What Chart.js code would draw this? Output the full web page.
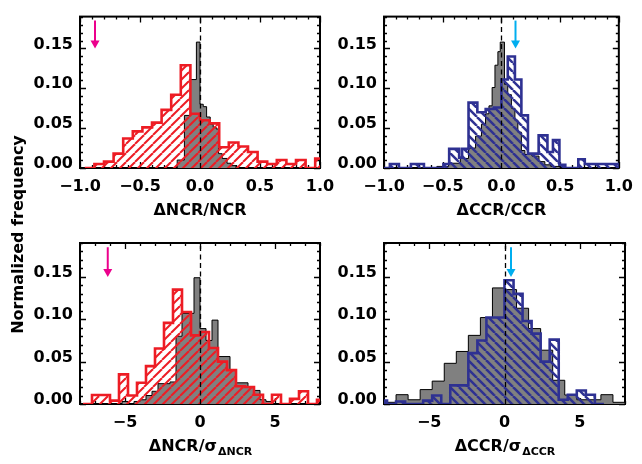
<!DOCTYPE html>
<html>
<head>
<meta charset="utf-8">
<script src="https://cdn.jsdelivr.net/npm/chart.js@4.4.1/dist/chart.umd.min.js"></script>
<style>
html,body{margin:0;padding:0;background:#fff;}
#wrap{position:relative;width:642px;height:464px;overflow:hidden;}
#wrap canvas{position:absolute;left:0;top:0;}
</style>
</head>
<body>
<div id="wrap">
<canvas id="c1" width="642" height="464"></canvas>
<canvas id="c2" width="642" height="464"></canvas>
<canvas id="c3" width="642" height="464"></canvas>
<canvas id="c4" width="642" height="464"></canvas>
</div>
<script>
// ---------- data ----------
// Top-left: ΔNCR/NCR
const ncrEdges   = [-0.96,-0.88,-0.80,-0.72,-0.64,-0.56,-0.48,-0.40,-0.32,-0.24,-0.16,-0.08,0.00,0.08,0.16,0.24,0.32,0.40,0.48,0.56,0.64,0.72,0.80,0.88,0.96,1.04];
const ncrFreq    = [0.000,0.005,0.008,0.018,0.037,0.046,0.051,0.057,0.073,0.092,0.129,0.068,0.060,0.056,0.026,0.032,0.027,0.020,0.008,0.005,0.010,0.005,0.010,0.000,0.012];
const ncrRefEdges= [-0.19,-0.13,-0.08,-0.03,0.00,0.027,0.055,0.085,0.11,0.135,0.155,0.185,0.225,0.26,0.30];
const ncrRefFreq = [0.010,0.066,0.111,0.158,0.080,0.077,0.064,0.055,0.051,0.049,0.018,0.012,0.006,0.003];

// Top-right: ΔCCR/CCR
const ccrEdges   = [-1.0,-0.95,-0.873,-0.771,-0.66,-0.494,-0.445,-0.36,-0.335,-0.28,-0.205,-0.134,-0.065,0.0,0.054,0.115,0.17,0.226,0.317,0.392,0.439,0.494,0.544,0.655,0.71,1.0];
const ccrFreq    = [0.000,0.005,0.000,0.005,0.000,0.005,0.024,0.013,0.024,0.082,0.070,0.074,0.076,0.111,0.140,0.111,0.066,0.018,0.041,0.020,0.035,0.004,0.000,0.011,0.005];
const ccrRefEdges= [-0.55,-0.45,-0.35,-0.28,-0.22,-0.17,-0.135,-0.106,-0.079,-0.055,-0.03,-0.01,0.026,0.054,0.085,0.115,0.14,0.17,0.2,0.26,0.32,0.37,0.42,0.5];
const ccrRefFreq = [0.002,0.006,0.012,0.025,0.040,0.055,0.068,0.078,0.101,0.129,0.146,0.158,0.105,0.092,0.075,0.060,0.045,0.022,0.017,0.015,0.008,0.004,0.002];

// Bottom-left: ΔNCR/σ_ΔNCR
const ncrSigEdges   = [-7.8,-7.2,-6.6,-6.0,-5.4,-4.8,-4.2,-3.6,-3.0,-2.4,-1.8,-1.2,-0.6,0.0,0.6,1.2,1.8,2.4,3.0,3.6,4.2,4.8,5.4,6.0,6.6,7.2,7.8,8.4];
const ncrSigFreq    = [0.000,0.0106,0.0106,0.004,0.035,0.010,0.025,0.0447,0.0655,0.0957,0.135,0.1086,0.081,0.085,0.066,0.050,0.040,0.021,0.020,0.011,0.000,0.011,0.000,0.006,0.015,0.000,0.005];
const ncrSigRefEdges= [-5.2,-4.8,-4.4,-4.0,-3.6,-3.2,-2.8,-2.4,-2.0,-1.6,-1.2,-0.8,-0.4,0.0,0.4,0.8,1.2,1.6,2.0,2.4,2.8,3.2,3.6,4.0,4.4,4.8];
const ncrSigRefFreq = [0.003,0.000,0.003,0.005,0.010,0.015,0.024,0.024,0.026,0.080,0.107,0.107,0.149,0.089,0.075,0.099,0.056,0.056,0.040,0.025,0.025,0.020,0.016,0.005,0.003];

// Bottom-right: ΔCCR/σ_ΔCCR
const ccrSigEdges   = [-8.4,-7.8,-7.2,-6.6,-6.0,-5.4,-4.8,-4.2,-3.6,-3.0,-2.4,-1.8,-1.2,-0.6,0.0,0.6,1.2,1.8,2.4,3.0,3.6,4.2,4.8,5.4,6.0,6.6];
const ccrSigFreq    = [0.004,0.000,0.003,0.000,0.000,0.004,0.010,0.000,0.022,0.022,0.060,0.075,0.102,0.102,0.146,0.130,0.098,0.083,0.050,0.076,0.005,0.011,0.016,0.011,0.000];
const ccrSigRefEdges= [-8.0,-7.2,-6.4,-5.6,-4.8,-4.0,-3.2,-2.4,-1.6,-0.8,0.0,0.8,1.6,2.4,3.2,4.0,4.8,5.6,6.4,7.2,8.0];
const ccrSigRefFreq = [0.002,0.011,0.005,0.017,0.027,0.048,0.062,0.081,0.102,0.137,0.135,0.113,0.089,0.0635,0.028,0.0106,0.005,0.005,0.011,0.002];

// arrows (x position in data units, vertical extent in frequency units)
const arrowNcr = -0.875, arrowCcr = 0.12, arrowNcrSig = -6.15, arrowCcrSig = 0.43;
const arrowTop = 0.185, arrowTip = 0.150;

// ticks
const xTicksTop = [-1, -0.5, 0, 0.5, 1];
const xTickLabelsTop = ['\u22121.0', '\u22120.5', '0.0', '0.5', '1.0'];
const xTicksBottom = [-5, 0, 5];
const xTickLabelsBottom = ['\u22125', '0', '5'];
const yTicks = [0, 0.05, 0.10, 0.15];
const yTickLabels = ['0.00', '0.05', '0.10', '0.15'];

// ---------- styling ----------
const RED = '#ed1c24', NAVY = '#2e3192', GRAY = '#808080', MAGENTA = '#ec008c', CYAN = '#00aeef';
const FONT = '"DejaVu Sans"';
const FS = 16;

Chart.defaults.font.family = FONT;
Chart.defaults.font.weight = 'bold';
Chart.defaults.font.size = FS;
Chart.defaults.color = '#000';

function steps(edges, freq) {
  const pts = [{x: edges[0], y: 0}];
  for (let i = 0; i < freq.length; i++) pts.push({x: edges[i], y: freq[i]});
  pts.push({x: edges[edges.length - 1], y: 0});
  return pts;
}

function hatch(ctx, color, dir, period, lw) {
  const c = document.createElement('canvas');
  c.width = period; c.height = period;
  const g = c.getContext('2d');
  g.strokeStyle = color; g.lineWidth = lw;
  for (let k = -1; k <= 1; k++) {
    g.beginPath();
    if (dir === '/') { g.moveTo(k * period, period); g.lineTo(k * period + period, 0); }
    else { g.moveTo(k * period, 0); g.lineTo(k * period + period, period); }
    g.stroke();
  }
  return ctx.createPattern(c, 'repeat');
}

function drawTitle(ctx, cx, base, main, sub) {
  ctx.save();
  ctx.fillStyle = '#000';
  ctx.textBaseline = 'alphabetic';
  ctx.textAlign = 'left';
  const fMain = 'bold ' + FS + 'px ' + FONT, fSub = 'bold 11px ' + FONT;
  ctx.font = fMain; const w1 = ctx.measureText(main).width;
  ctx.font = fSub; const w2 = sub ? ctx.measureText(sub).width : 0;
  const x0 = cx - (w1 + w2) / 2;
  ctx.font = fMain; ctx.fillText(main, x0, base);
  if (sub) { ctx.font = fSub; ctx.fillText(sub, x0 + w1 + 1, base + 4); }
  ctx.restore();
}

function panelPlugin(p) {
  return {
    id: 'panel' + p.id,
    beforeDatasetsDraw(chart) {
      const {ctx, chartArea: a, scales} = chart;
      const xs = scales.x, ys = scales.y;
      ctx.save();
      ctx.strokeStyle = '#000';
      ctx.lineWidth = 1.3;
      ctx.beginPath();
      const tick = (v, len, horiz) => {
        if (horiz) {
          const px = Math.round(xs.getPixelForValue(v)) + 0.5;
          ctx.moveTo(px, a.bottom); ctx.lineTo(px, a.bottom - len);
          ctx.moveTo(px, a.top); ctx.lineTo(px, a.top + len);
        } else {
          const py = Math.round(ys.getPixelForValue(v)) + 0.5;
          ctx.moveTo(a.left, py); ctx.lineTo(a.left + len, py);
          ctx.moveTo(a.right, py); ctx.lineTo(a.right - len, py);
        }
      };
      const isMajor = (v, arr) => arr.some(m => Math.abs(m - v) < 1e-6);
      for (let k = Math.ceil(p.xMin / p.xMinor - 1e-6); k * p.xMinor <= p.xMax + 1e-6; k++) {
        const v = k * p.xMinor;
        tick(v, isMajor(v, p.xTicks) ? 6 : 3, true);
      }
      for (let k = 0; k * 0.01 <= 0.19 + 1e-6; k++) {
        const v = k * 0.01;
        tick(v, isMajor(v, yTicks) ? 6 : 3, false);
      }
      ctx.stroke();
      ctx.lineWidth = 2;
      ctx.strokeRect(a.left, a.top, a.right - a.left, a.bottom - a.top);
      ctx.restore();
    },
    afterDatasetsDraw(chart) {
      const {ctx, chartArea: a, scales} = chart;
      const xs = scales.x, ys = scales.y;
      ctx.save();
      // dashed zero line
      const x0 = Math.round(xs.getPixelForValue(0)) + 0.5;
      ctx.strokeStyle = '#000';
      ctx.lineWidth = 1.3;
      ctx.setLineDash([5, 3.5]);
      ctx.beginPath(); ctx.moveTo(x0, a.bottom); ctx.lineTo(x0, a.top); ctx.stroke();
      ctx.setLineDash([]);
      // arrow
      const ax = xs.getPixelForValue(p.arrowX);
      const y1 = ys.getPixelForValue(arrowTop), y2 = ys.getPixelForValue(arrowTip);
      ctx.strokeStyle = p.arrowColor; ctx.fillStyle = p.arrowColor;
      ctx.lineWidth = 2;
      ctx.beginPath(); ctx.moveTo(ax, y1); ctx.lineTo(ax, y2 - 6); ctx.stroke();
      ctx.beginPath(); ctx.moveTo(ax - 4.5, y2 - 8); ctx.lineTo(ax + 4.5, y2 - 8); ctx.lineTo(ax, y2); ctx.closePath(); ctx.fill();
      ctx.restore();
      // axis title
      drawTitle(ctx, (a.left + a.right) / 2, a.bottom + 47, p.title[0], p.title[1]);
      if (p.yTitle) {
        ctx.save();
        ctx.font = 'bold ' + FS + 'px ' + FONT;
        ctx.fillStyle = '#000';
        ctx.textAlign = 'center';
        ctx.textBaseline = 'alphabetic';
        ctx.translate(23, 234.5);
        ctx.rotate(-Math.PI / 2);
        ctx.fillText(p.yTitle, 0, 0);
        ctx.restore();
      }
    }
  };
}

function makePanel(p) {
  const canvas = document.getElementById(p.id);
  const ctx = canvas.getContext('2d');
  const [L, R, T, B] = p.area;
  const yW = 72, xH = 40;
  const pattern = hatch(ctx, p.color, p.dir, p.period, p.hatchWidth);
  return new Chart(canvas, {
    type: 'line',
    data: {
      datasets: [
        { data: steps(p.edges, p.freq), stepped: true, borderColor: p.color, borderWidth: 2.6,
          backgroundColor: pattern, fill: 'origin', pointRadius: 0, order: 0, borderJoinStyle: 'miter' },
        { data: steps(p.refEdges, p.refFreq), stepped: true, borderColor: '#000', borderWidth: 1,
          backgroundColor: GRAY, fill: 'origin', pointRadius: 0, order: 1, borderJoinStyle: 'miter' }
      ]
    },
    options: {
      responsive: false,
      animation: false,
      devicePixelRatio: 1,
      events: [],
      layout: { padding: { left: L - yW, right: 642 - R, top: T, bottom: 464 - B - xH } },
      plugins: { legend: { display: false }, tooltip: { enabled: false } },
      scales: {
        x: {
          type: 'linear', min: p.xMin, max: p.xMax,
          afterFit(s) { s.height = xH; },
          afterBuildTicks(s) { s.ticks = p.xTicks.map(v => ({value: v})); },
          ticks: { callback: (v, i) => p.xLabels[i], padding: 9, maxRotation: 0, autoSkip: false },
          grid: { display: false, drawTicks: false },
          border: { display: false }
        },
        y: {
          type: 'linear', min: 0, max: 0.19,
          afterFit(s) { s.width = yW; },
          afterBuildTicks(s) { s.ticks = yTicks.map(v => ({value: v})); },
          ticks: { callback: (v, i) => yTickLabels[i], padding: 7, labelOffset: -4, autoSkip: false },
          grid: { display: false, drawTicks: false },
          border: { display: false }
        }
      }
    },
    plugins: [panelPlugin(p)]
  });
}

makePanel({ id: 'c1', area: [80, 320, 7, 168], xMin: -1, xMax: 1, xTicks: xTicksTop, xLabels: xTickLabelsTop, xMinor: 0.1,
  edges: ncrEdges, freq: ncrFreq, refEdges: ncrRefEdges, refFreq: ncrRefFreq,
  color: RED, dir: '/', period: 9, hatchWidth: 2, arrowX: arrowNcr, arrowColor: MAGENTA,
  title: ['\u0394NCR/NCR', ''], yTitle: 'Normalized frequency' });
makePanel({ id: 'c2', area: [384, 625, 7, 168], xMin: -1, xMax: 1, xTicks: xTicksTop, xLabels: xTickLabelsTop, xMinor: 0.1,
  edges: ccrEdges, freq: ccrFreq, refEdges: ccrRefEdges, refFreq: ccrRefFreq,
  color: NAVY, dir: '\\', period: 9, hatchWidth: 2.5, arrowX: arrowCcr, arrowColor: CYAN,
  title: ['\u0394CCR/CCR', ''] });
makePanel({ id: 'c3', area: [80, 320, 243, 404], xMin: -8, xMax: 8, xTicks: xTicksBottom, xLabels: xTickLabelsBottom, xMinor: 1,
  edges: ncrSigEdges, freq: ncrSigFreq, refEdges: ncrSigRefEdges, refFreq: ncrSigRefFreq,
  color: RED, dir: '/', period: 9, hatchWidth: 2, arrowX: arrowNcrSig, arrowColor: MAGENTA,
  title: ['\u0394NCR/\u03c3', '\u0394NCR'] });
makePanel({ id: 'c4', area: [384, 625, 243, 404], xMin: -8, xMax: 8, xTicks: xTicksBottom, xLabels: xTickLabelsBottom, xMinor: 1,
  edges: ccrSigEdges, freq: ccrSigFreq, refEdges: ccrSigRefEdges, refFreq: ccrSigRefFreq,
  color: NAVY, dir: '\\', period: 9, hatchWidth: 2.5, arrowX: arrowCcrSig, arrowColor: CYAN,
  title: ['\u0394CCR/\u03c3', '\u0394CCR'] });
</script>
</body>
</html>
